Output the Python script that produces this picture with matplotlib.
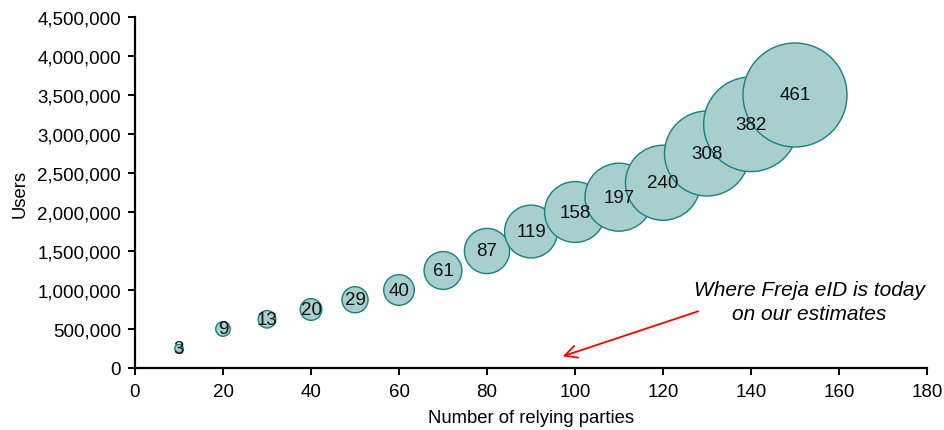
import matplotlib
matplotlib.use("Agg")
import matplotlib.pyplot as plt
from matplotlib.ticker import FuncFormatter, MultipleLocator

plt.rcParams['font.family'] = ['Liberation Sans', 'DejaVu Sans']

relying_parties = [10, 20, 30, 40, 50, 60, 70, 80, 90, 100, 110, 120, 130, 140, 150]
users = [250000, 500000, 625000, 750000, 875000, 1000000, 1250000, 1500000,
         1750000, 2000000, 2190000, 2375000, 2750000, 3125000, 3500000]
bubble_values = [3, 9, 13, 20, 29, 40, 61, 87, 119, 158, 197, 240, 308, 382, 461]

fig = plt.figure(figsize=(9.44, 4.31), dpi=100)
ax = fig.add_axes([135 / 944, 62 / 431, (927 - 135) / 944, (369 - 18) / 431])

# bubble area proportional to value; largest bubble ~104 px across
size_scale = (104 * 0.72) ** 2 / max(bubble_values)
sizes = [v * size_scale for v in bubble_values]
ax.scatter(relying_parties, users, s=sizes, facecolor='#A6CFCE',
           edgecolor='#1B7F7E', linewidth=1.0, zorder=3, clip_on=False)

for x, y, v in zip(relying_parties, users, bubble_values):
    ax.text(x, y, str(v), ha='center', va='center', fontsize=13.5,
            color='#111111', zorder=4)

ax.set_xlim(0, 180)
ax.set_ylim(0, 4500000)
ax.xaxis.set_major_locator(MultipleLocator(20))
ax.yaxis.set_major_locator(MultipleLocator(500000))
ax.yaxis.set_major_formatter(FuncFormatter(lambda v, p: f"{int(v):,}"))

for side in ('top', 'right'):
    ax.spines[side].set_visible(False)
for side in ('left', 'bottom'):
    ax.spines[side].set_linewidth(1.6)
    ax.spines[side].set_color('black')
ax.tick_params(axis='both', direction='out', length=5, width=1.4,
               labelsize=13.5, colors='black', pad=5)
ax.tick_params(axis='x', pad=6)

ax.set_xlabel('Number of relying parties', fontsize=13.3, labelpad=6)
ax.set_ylabel('Users', fontsize=13.3, labelpad=6)

ax.annotate('', xy=(97.2, 150000), xytext=(128.0, 727000),
            arrowprops=dict(arrowstyle='->', color='red', lw=1.3,
                            mutation_scale=22, shrinkA=0, shrinkB=0))
ax.text(153.2, 850000, 'Where Freja eID is today\non our estimates',
        ha='center', va='center', style='italic', fontsize=15,
        multialignment='center', linespacing=1.3)

fig.savefig('out.png', dpi=100)
